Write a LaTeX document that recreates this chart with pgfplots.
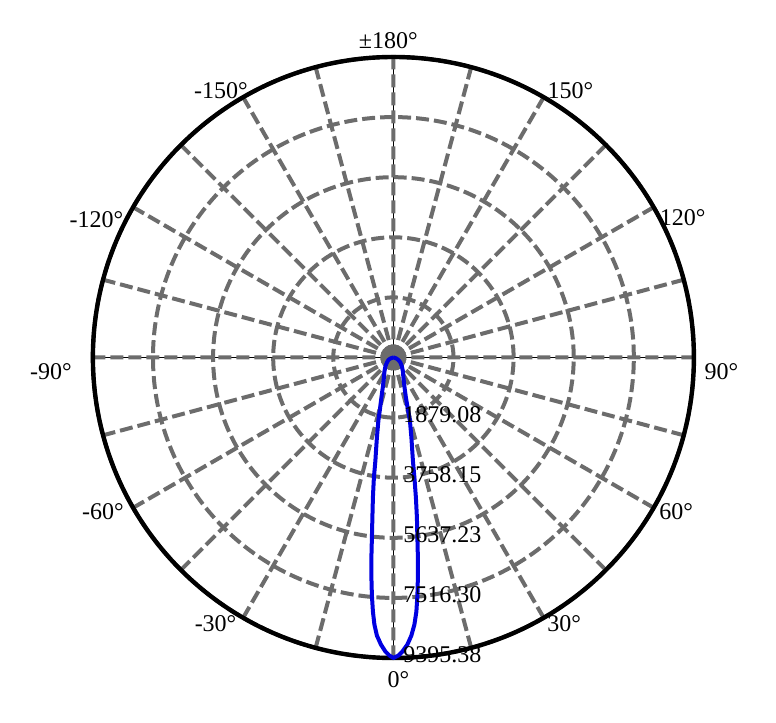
\documentclass[border=0pt]{standalone}
\usepackage{pgfplots}
\pgfplotsset{compat=1.18}
\usepgfplotslibrary{polar}
\usepackage{pgfplotstable}
\usepackage{fontspec}
\setmainfont{Liberation Serif}

\definecolor{gridgray}{RGB}{108,108,108}
\definecolor{curveblue}{RGB}{0,0,225}

% candela distribution: angle (0 = down, positive to the right), intensity
\pgfplotstableread{
a I
-180 0
-120 0
-90 0
-80 20
-71.6 99
-63.4 175
-52.4 256
-41.6 376
-32.7 520
-25.4 692
-19.9 964
-16.7 1306
-14.55 1680
-13.39 2025
-11.65 2554
-10.44 3021
-9.91 3270
-9.23 3802
-8.33 4424
-7.48 5046
-6.81 5669
-6.28 6292
-5.71 6914
-5.16 7473
-4.61 7969
-4.07 8370
-3.40 8708
-2.49 8983
-1.56 9197
-0.77 9319
0 9395.38
0.96 9320
1.75 9198
2.79 8985
3.70 8711
4.50 8375
5.17 7975
5.76 7480
6.35 6922
6.98 6301
7.59 5679
8.36 5057
9.13 4434
9.93 3809
10.72 3278
12.68 2564
14.68 2037
15.58 1688
17.35 1310
20.8 970
26.6 699
34.2 529
43.4 387
54.5 269
63.4 175
71.6 99
80 20
90 0
120 0
180 0
}\lobe

\begin{document}
\begin{tikzpicture}[font=\fontsize{12bp}{14bp}\selectfont]
\begin{polaraxis}[
  set layers,
  scale only axis,
  width=300.5bp, height=300.5bp,
  ymin=0, ymax=9395.38,
  xtick={0,30,...,330},
  minor xtick={15,45,...,345},
  ytick={1879.08,3758.15,5637.23,7516.30,9395.38},
  xticklabels={}, yticklabels={},
  major tick length=0pt, minor tick length=0pt,
  tick style={draw=none},
  grid=both,
  major grid style={gridgray, line width=2bp, dash pattern=on 6.5bp off 2.5bp},
  minor grid style={gridgray, line width=2bp, dash pattern=on 6.5bp off 2.5bp},
  axis line style={black, line width=2.2bp},
  y axis line style={draw=none},
  clip=false,
]
% thin black cross under the grid
\addplot[on layer=axis background, black, line width=0.6bp] coordinates {(0,9395.38) (180,9395.38)};
\addplot[on layer=axis background, black, line width=0.6bp] coordinates {(90,9395.38) (270,9395.38)};

\addplot[curveblue, line width=2bp, line join=round] table[x expr=\thisrow{a}-90, y=I] {\lobe};

\coordinate (O) at (axis cs:0,0);

% radial labels along the 0 deg ray
\node[anchor=west, inner sep=0pt, xshift=4.8bp, yshift=1.7bp] at (axis cs:-90,1879.08) {1879.08};
\node[anchor=west, inner sep=0pt, xshift=4.8bp, yshift=1.7bp] at (axis cs:-90,3758.15) {3758.15};
\node[anchor=west, inner sep=0pt, xshift=4.8bp, yshift=1.7bp] at (axis cs:-90,5637.23) {5637.23};
\node[anchor=west, inner sep=0pt, xshift=4.8bp, yshift=1.7bp] at (axis cs:-90,7516.30) {7516.30};
\node[anchor=west, inner sep=0pt, xshift=4.8bp, yshift=1.7bp] at (axis cs:-90,9395.38) {9395.38};

% angle labels
\node[inner sep=0pt] at ([shift={(2.55bp,-10.75bp)}]axis cs:-90,9395.38) {0°};
\node[inner sep=0pt] at ([shift={(10.2bp,-3.15bp)}]axis cs:-60,9395.38) {30°};
\node[inner sep=0pt] at ([shift={(11.2bp,-2.1bp)}]axis cs:-30,9395.38) {60°};
\node[inner sep=0pt] at ([shift={(13.8bp,-7bp)}]axis cs:0,9395.38) {90°};
\node[inner sep=0pt] at ([shift={(14.45bp,-5.4bp)}]axis cs:30,9395.38) {120°};
\node[inner sep=0pt] at ([shift={(13.4bp,3.4bp)}]axis cs:60,9395.38) {150°};
\node[inner sep=0pt] at ([shift={(-2.55bp,8bp)}]axis cs:90,9395.38) {±180°};
\node[inner sep=0pt] at ([shift={(-11.1bp,3.4bp)}]axis cs:120,9395.38) {-150°};
\node[inner sep=0pt] at ([shift={(-18.35bp,-6.1bp)}]axis cs:150,9395.38) {-120°};
\node[inner sep=0pt] at ([shift={(-20.95bp,-7bp)}]axis cs:180,9395.38) {-90°};
\node[inner sep=0pt] at ([shift={(-15.1bp,-2.1bp)}]axis cs:210,9395.38) {-60°};
\node[inner sep=0pt] at ([shift={(-13.8bp,-3.15bp)}]axis cs:240,9395.38) {-30°};
\end{polaraxis}
\pgfresetboundingbox
\path ([shift={(-196.7bp,-182.75bp)}]O) rectangle ([shift={(191.3bp,178.75bp)}]O);
\end{tikzpicture}
\end{document}
